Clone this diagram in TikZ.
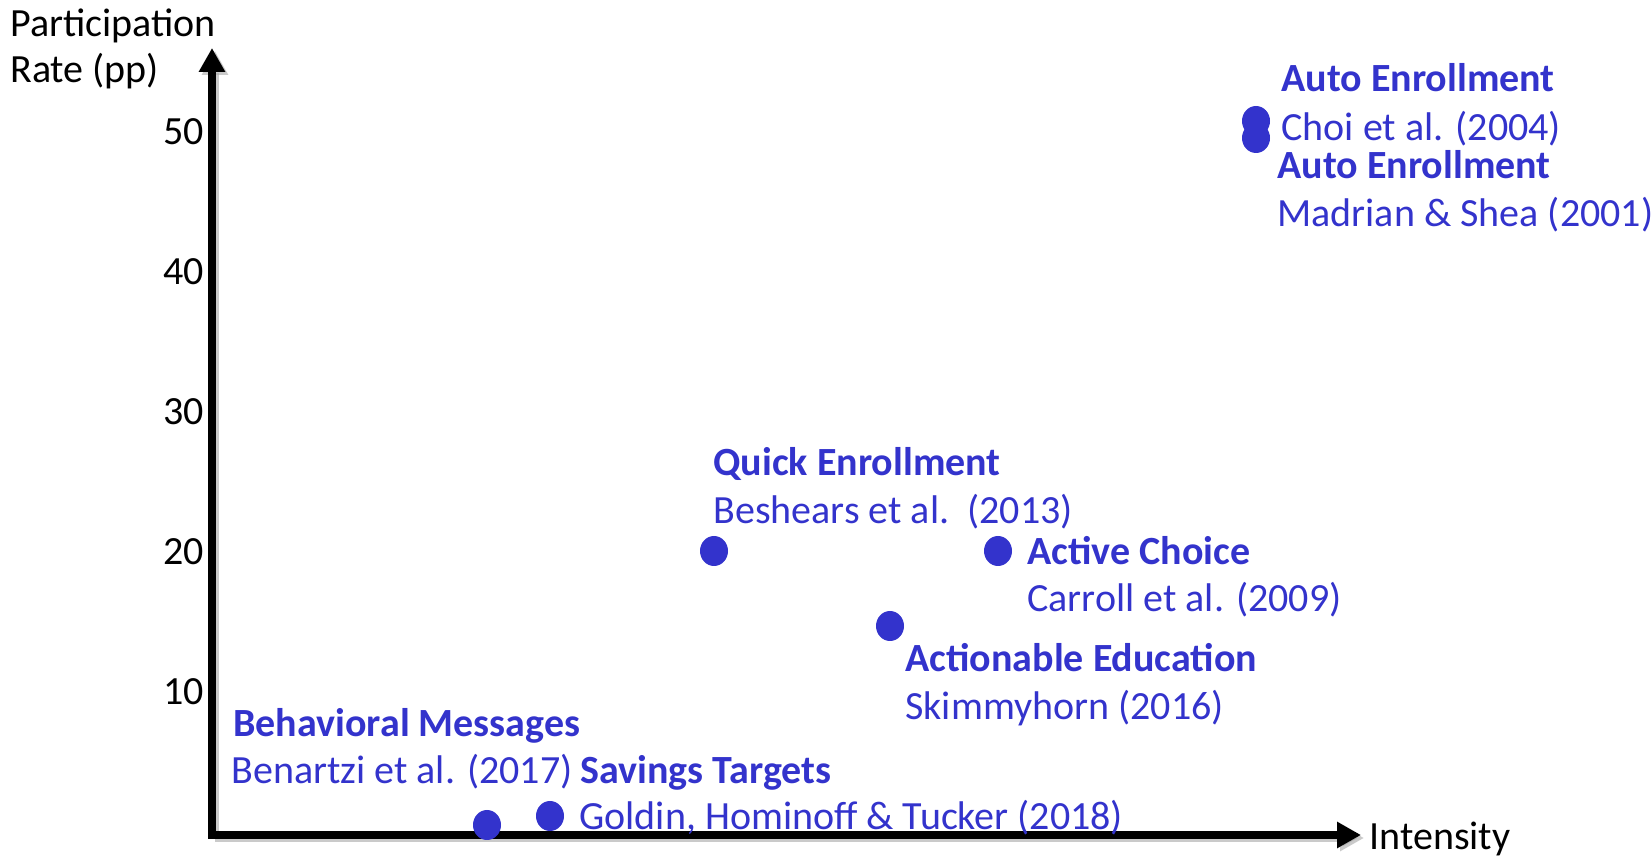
\documentclass[tikz,border=0pt]{standalone}
\usepackage{fontspec}
\setmainfont{Carlito}
\usepackage{xcolor}
\usepackage{tikz}
\usetikzlibrary{arrows.meta,positioning,shapes.geometric}
\definecolor{pointblue}{RGB}{51,51,204}
\begin{document}
\begin{tikzpicture}
      [ x=0.5pt, y=-0.5pt,
        every node/.style={font=\fontsize{20}{24}\selectfont, inner sep=0pt},
        axis/.style={line width=3.6pt, -{Triangle[length=12pt,width=12.5pt]}},
        axisshadow/.style={axis, black!35, opacity=0.6},
        dot/.style={ellipse, fill=pointblue, minimum width=14pt, minimum height=15pt},
        study/.style={anchor=base west, text=pointblue},
        policy/.style={study, font=\fontsize{20}{24}\selectfont\bfseries},
        tick/.style={anchor=base east}
      ]
      \useasboundingbox (0,0) rectangle (1651,860);

      % axes
      \coordinate (origin) at (212,835);
      \coordinate (ytop)   at (212,48);
      \coordinate (xend)   at (1361,835);
      \draw[axisshadow] ([shift={(3,3)}]origin) -- ([shift={(3,3)}]ytop);
      \draw[axisshadow] ([shift={(3,3)}]origin) -- ([shift={(3,3)}]xend);
      \draw[axis] ([yshift=-1.8pt]origin) -- (ytop);
      \draw[axis] ([xshift=-1.8pt]origin) -- (xend);

      \node[anchor=base west] (ylab1) at (10,37)   {Participation};
      \node[anchor=base west] (ylab2) at (10,83)   {Rate (pp)};
      \node[anchor=base west] (xlab)  at (1369,850) {Intensity};

      \foreach \v in {10,20,30,40,50}
        \node[tick] (tick\v) at (204,{845-14*\v}) {\v};

      % studies
      \node[dot] (choi)     at (1256,121) {};
      \node[dot] (madrian)  at (1256,138) {};
      \node[dot] (quick)    at (714,551)  {};
      \node[dot] (active)   at (998,551)  {};
      \node[dot] (educ)     at (890,626)  {};
      \node[dot] (messages) at (487,825)  {};
      \node[dot] (targets)  at (550,816)  {};

      \node[policy] (choiT)     at (1281,92)  {Auto Enrollment};
      \node[study]  (choiS)     at (1281,141) {Choi et al. (2004)};
      \node[policy] (madrianT)  at (1277,179) {Auto Enrollment};
      \node[study]  (madrianS)  at (1277,227) {Madrian \& Shea (2001)};
      \node[policy] (quickT)    at (713,476)  {Quick Enrollment};
      \node[study]  (quickS)    at (713,524)  {Beshears et al.\ \ (2013)};
      \node[policy] (activeT)   at (1027,565) {Active Choice};
      \node[study]  (activeS)   at (1027,612) {Carroll et al. (2009)};
      \node[policy] (educT)     at (905,672)  {Actionable Education};
      \node[study]  (educS)     at (905,720)  {Skimmyhorn (2016)};
      \node[policy] (messagesT) at (233,737)  {Behavioral Messages};
      \node[study]  (messagesS) at (231,784)  {Benartzi et al. (2017)};
      \node[policy] (targetsT)  at (580,784)  {Savings Targets};
      \node[study]  (targetsS)  at (579,830)  {Goldin, Hominoff \& Tucker (2018)};
\end{tikzpicture}
\end{document}
